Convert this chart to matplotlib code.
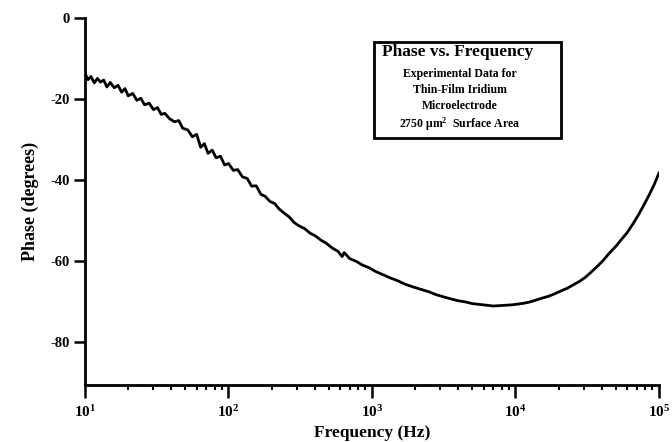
import numpy as np
import matplotlib
matplotlib.use("Agg")
import matplotlib.pyplot as plt
from matplotlib.patches import Rectangle
from matplotlib.ticker import LogLocator, NullFormatter

# phase of the thin-film iridium microelectrode
freq_hz = [10, 10.5, 11, 11.6, 12.2, 12.8, 13.5, 14.2, 15, 16, 17, 18, 19, 20,
           21.5, 23, 24.5, 26, 28, 30, 32, 34, 36, 39, 42, 45, 48, 52, 56, 60,
           64, 68, 72, 77, 82, 88, 94, 100, 108, 116, 125, 135, 145, 156, 168,
           180, 195, 210, 225, 245, 265, 285, 310, 340, 370, 400, 440, 480,
           530, 580, 620, 640, 700, 780, 860, 950, 1050, 1200, 1350, 1500,
           1700, 1900, 2200, 2500, 2800, 3200, 3600, 4000, 4500, 5000, 5600,
           6300, 7000, 7800, 8600, 9500, 10500, 11500, 12600, 14000, 15500,
           17000, 19000, 21000, 23000, 25500, 28000, 31000, 34000, 37000,
           41000, 45000, 50000, 55000, 60000, 66000, 72000, 79000, 86000,
           93000, 100000]
phase_deg = [-13.6, -15.2, -14.4, -16.0, -14.9, -15.8, -15.3, -17.0, -15.9,
             -17.2, -16.6, -18.3, -17.4, -19.2, -18.6, -20.3, -19.8, -21.4,
             -21.0, -22.6, -22.1, -23.8, -23.5, -24.9, -25.6, -25.3, -27.2,
             -27.6, -29.3, -28.7, -31.9, -31.0, -33.4, -32.6, -34.5, -34.1,
             -36.3, -35.9, -37.6, -37.4, -39.2, -39.6, -41.5, -41.4, -43.5,
             -44.0, -45.3, -45.8, -47.1, -48.2, -49.1, -50.4, -51.3, -52.0,
             -53.1, -53.7, -54.8, -55.6, -56.8, -57.6, -58.9, -57.9, -59.4,
             -60.1, -61.0, -61.6, -62.5, -63.4, -64.2, -64.8, -65.7, -66.3,
             -67.0, -67.6, -68.3, -68.9, -69.4, -69.8, -70.1, -70.5, -70.7,
             -70.9, -71.1, -71.0, -70.9, -70.8, -70.6, -70.4, -70.1, -69.6,
             -69.1, -68.7, -68.0, -67.3, -66.7, -65.8, -65.0, -63.9, -62.6,
             -61.4, -59.8, -58.1, -56.4, -54.6, -53.0, -50.8, -48.6, -46.0,
             -43.5, -41.0, -38.3]

x_ticks = [10, 100, 1000, 10000, 100000]
x_tick_labels = [r"$\mathregular{10^{1}}$", r"$\mathregular{10^{2}}$",
                 r"$\mathregular{10^{3}}$", r"$\mathregular{10^{4}}$",
                 r"$\mathregular{10^{5}}$"]
y_ticks = [0, -20, -40, -60, -80]
y_tick_labels = ["0", "-20", "-40", "-60", "-80"]

box_title = "Phase vs. Frequency"
box_lines = ["Experimental Data for", "Thin-Film Iridium", "Microelectrode",
             r"2750 $\mathregular{\mu m^{2}}$  Surface Area"]

plt.rcParams["font.family"] = ["Liberation Serif", "DejaVu Serif"]
plt.rcParams["font.weight"] = "bold"
plt.rcParams["mathtext.fontset"] = "custom"
plt.rcParams["mathtext.rm"] = "Liberation Serif:bold"
plt.rcParams["mathtext.it"] = "Liberation Serif:bold"
plt.rcParams["mathtext.bf"] = "Liberation Serif:bold"

fig = plt.figure(figsize=(6.72, 4.42), dpi=100)
ax = fig.add_axes([0.1265, 0.129, 0.854, 0.83])

ax.plot(freq_hz, phase_deg, color="black", lw=2.0)

ax.set_xscale("log")
ax.set_xlim(10, 100000)
ax.set_ylim(-90.6, 0)

ax.set_xticks(x_ticks)
ax.set_xticklabels(x_tick_labels, fontsize=11)
ax.xaxis.set_minor_locator(LogLocator(base=10, subs=np.arange(2, 10)))
ax.xaxis.set_minor_formatter(NullFormatter())
ax.set_yticks(y_ticks)
ax.set_yticklabels(y_tick_labels, fontsize=10.5)

for side in ["top", "right"]:
    ax.spines[side].set_visible(False)
ax.spines["left"].set_linewidth(2)
ax.spines["bottom"].set_linewidth(2)
ax.tick_params(axis="y", which="major", direction="out", length=8, width=1.8, pad=3)
ax.tick_params(axis="x", which="major", direction="out", length=9, width=1.8, pad=5)
ax.tick_params(axis="x", which="minor", direction="out", length=3.5, width=1.5)

ax.set_xlabel("Frequency (Hz)", fontsize=12.5, fontweight="bold")
ax.xaxis.set_label_coords(0.5, -0.108)
ax.set_ylabel("Phase (degrees)", fontsize=13, fontweight="bold", labelpad=8)

# annotation box drawn in figure pixels
W, H = 672, 442
fig.patches.append(Rectangle((374 / W, 1 - 138 / H), 187 / W, 96 / H,
                             transform=fig.transFigure, fill=False,
                             edgecolor="black", lw=2))
fig.text(382 / W, 1 - 52 / H, box_title, fontsize=12.5, fontweight="bold",
         ha="left", va="center")
for txt, ypix in zip(box_lines, [74, 90, 106, 124]):
    fig.text(460 / W, 1 - ypix / H, txt, fontsize=8.5, fontweight="bold",
             ha="center", va="center")

fig.savefig("out.png", dpi=100)
